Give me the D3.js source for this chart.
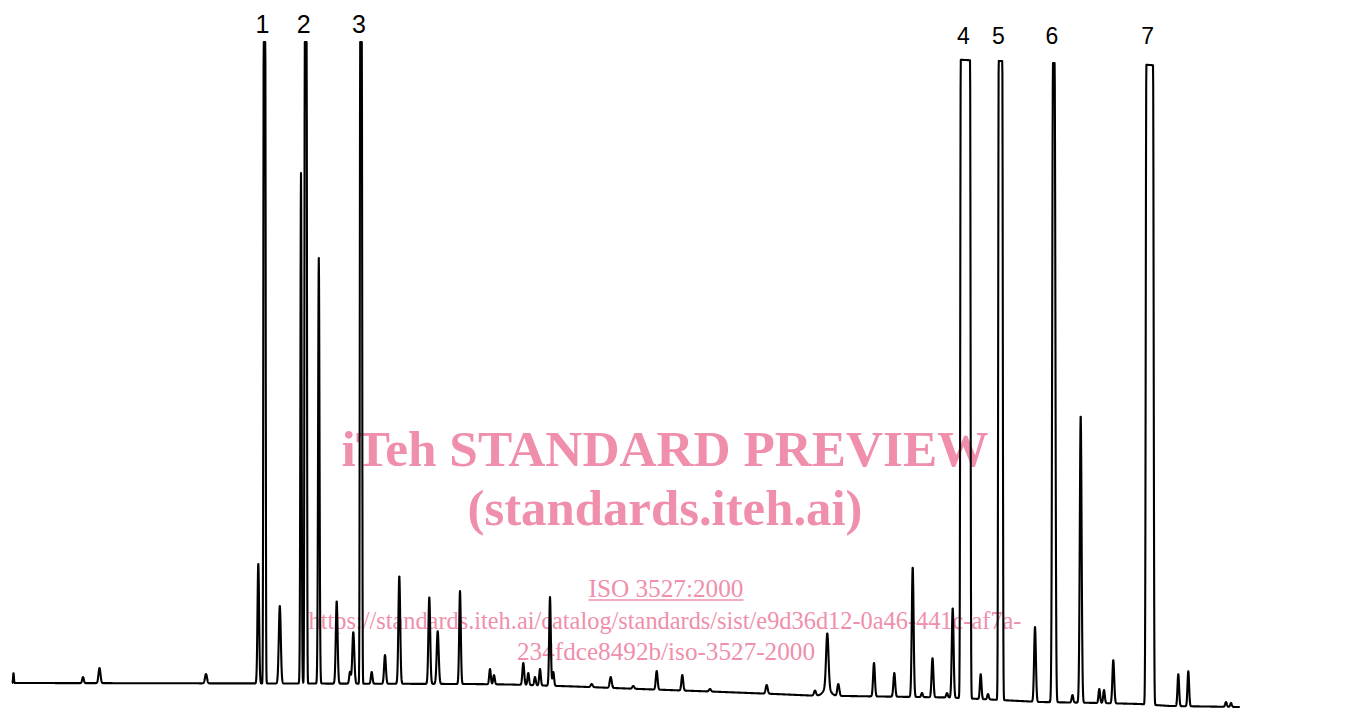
<!DOCTYPE html>
<html>
<head>
<meta charset="utf-8">
<script src="https://cdn.jsdelivr.net/npm/d3@7"></script>
<style>
    body { margin: 0; background: #fff; }
    svg { display: block; }
</style>
</head>
<body>
<script>
"use strict";

// peaks: retention (arbitrary units), apex response, peak width, flat top (saturated)
const peakRT = [13.5, 83, 99.5, 206, 258.3, 264.5, 279.8, 301, 305.7, 318.8,
                336.7, 350, 353.3, 361, 371.7, 385, 399.3, 429.3, 437.7, 460,
                490, 494, 523.3, 528.3, 535, 540, 550, 553.3, 591.7, 610.7,
                633.3, 656.7, 682.3, 710, 766.7, 815, 827, 827.3, 838.3, 874,
                894.3, 912.7, 922, 932.5, 947, 952.7, 965.4, 980.7, 988, 1000.5,
                1035, 1053.8, 1072.5, 1080.7, 1099.3, 1104, 1113.3, 1149.7, 1178.3, 1188.3,
                1226, 1231];
const peakApex = [10, 6, 15, 9, 120, 641, 77, 510, 641, 425,
                  82, 11, 51, 641, 11, 28, 107, 86, 52, 92,
                  14, 8, 20, 10, 6, 14, 86, 11, -1, 6,
                  -3, 12, 8, -6, -2, -7.5, -5, 42, -1, 20,
                  10, 116, -10, 25, -10, 75, 623, 9, -11, 622,
                  56, 620, -12, 268, -6, -7, 23, 618, 9, 12,
                  -19, -20];
const peakSigma = [0.4, 0.8, 1.0, 1.0, 0.8, 0.4, 1.0, 0.6, 0.4, 0.7,
                   0.9, 0.8, 1.0, 0.4, 0.8, 0.9, 0.9, 0.9, 1.0, 0.8,
                   0.8, 0.8, 0.9, 0.8, 0.8, 0.8, 0.8, 0.8, 1.0, 1.0,
                   1.0, 0.9, 0.9, 1.0, 1.0, 1.0, 3.5, 1.2, 1.0, 0.9,
                   0.9, 0.9, 0.8, 0.9, 0.8, 0.9, 0.5, 0.8, 0.8, 0.5,
                   0.9, 0.8, 0.8, 0.9, 0.8, 0.8, 0.9, 0.6, 0.8, 0.8,
                   0.8, 0.8];
const peakFlat = [0, 0, 0, 0, 0, 1.6, 0, 0, 1.8, 0,
                  0, 0, 0, 1.6, 0, 0, 0, 0, 0, 0,
                  0, 0, 0, 0, 0, 0, 0, 0, 0, 0,
                  0, 0, 0, 0, 0, 0, 0, 0, 0, 0,
                  0, 0, 0, 0, 0, 0, 9.3, 0, 0, 3.6,
                  0, 1.6, 0, 0, 0, 0, 0, 6.7, 0, 0,
                  0, 0];

// baseline drift
const baselineRT = [12, 300, 470, 510, 575, 640, 710, 775, 810, 880, 950, 1000, 1040, 1100, 1140, 1170, 1240];
const baselineLevel = [0, -0.5, -1, -1.5, -3.5, -6, -8.5, -11, -12.5, -13.5, -14.5, -17, -19, -20, -21, -23, -24];

// numbered peaks
const labelNames = ["1", "2", "3", "4", "5", "6", "7"];
const labelRT = [264.5, 305.7, 361, 965.4, 1000.5, 1053.8, 1149.7];

// watermark lines
const stampLines = [
    "iTeh STANDARD PREVIEW",
    "(standards.iteh.ai)",
    "ISO 3527:2000",
    "https://standards.iteh.ai/catalog/standards/sist/e9d36d12-0a46-441c-af7a-",
    "234fdce8492b/iso-3527-2000"
];



// setting
const width = 1348, height = 708;
const setting = {
    traceColor: "#000",
    traceWidth: 2.1,
    stampColor: "#ef8fab",
    step: 0.2
};



// svg
let svg = d3.select("body").append("svg")
    .attr("width", width)
    .attr("height", height);

svg.append("rect")
    .attr("width", width)
    .attr("height", height)
    .attr("fill", "#fff");



// scales
let scaleX = d3.scaleLinear().domain([0, 1348]).range([0, 1348]);
let scaleY = d3.scaleLinear().domain([0, 641]).range([683, 42]);
let baseline = d3.scaleLinear().domain(baselineRT).range(baselineLevel).clamp(true);



// peak table
let peaks = peakRT.map((rt, i) => ({
    rt: rt,
    h: peakApex[i] - baseline(rt),
    sigma: peakSigma[i],
    flat: peakFlat[i]
}));

function signal(t) {
    let s = baseline(t);
    peaks.forEach(p => {
        let d = Math.max(0, Math.abs(t - p.rt) - p.flat / 2);
        if (d < p.sigma * 8) {
            s += p.h * Math.exp(-d * d / (2 * p.sigma * p.sigma));
        }
    });
    return s;
}

let trace = d3.range(baselineRT[0], baselineRT[baselineRT.length - 1], setting.step)
    .map(t => [t, signal(t)]);



// watermark (under the trace)
let stamp = svg.append("g")
    .attr("class", "stamp")
    .attr("fill", setting.stampColor)
    .attr("font-family", "'Liberation Serif', 'Times New Roman', serif")
    .attr("text-anchor", "middle");

const stampY = [466, 525, 597, 629, 660],
      stampX = [665, 665, 666, 665, 666],
      stampLen = [647, 395, 155, 713, 298],
      stampSize = [50, 50, 25, 25, 25],
      stampBold = [true, true, false, false, false];

stamp.selectAll("text")
    .data(stampLines)
    .enter()
    .append("text")
    .attr("x", (d, i) => stampX[i])
    .attr("y", (d, i) => stampY[i])
    .attr("font-size", (d, i) => stampSize[i])
    .attr("font-weight", (d, i) => stampBold[i] ? "bold" : "normal")
    .attr("textLength", (d, i) => stampLen[i])
    .attr("lengthAdjust", "spacingAndGlyphs")
    .text(d => d);

// underline of the standard number
stamp.append("line")
    .attr("x1", stampX[2] - stampLen[2] / 2)
    .attr("x2", stampX[2] + stampLen[2] / 2)
    .attr("y1", stampY[2] + 3)
    .attr("y2", stampY[2] + 3)
    .attr("stroke", setting.stampColor)
    .attr("stroke-width", 1.3);



// chromatogram trace
let line = d3.line()
    .x(d => scaleX(d[0]))
    .y(d => scaleY(d[1]));

svg.append("path")
    .datum(trace)
    .attr("class", "trace")
    .attr("fill", "none")
    .attr("stroke", setting.traceColor)
    .attr("stroke-width", setting.traceWidth)
    .attr("stroke-linejoin", "round")
    .attr("d", line);



// peak numbers
svg.append("g")
    .attr("class", "labels")
    .attr("font-family", "'Liberation Sans', Arial, sans-serif")
    .attr("text-anchor", "middle")
    .selectAll("text")
    .data(labelNames)
    .enter()
    .append("text")
    .attr("x", (d, i) => scaleX(labelRT[i]) - 2)
    .attr("y", (d, i) => labelRT[i] < 600 ? 33 : 44)
    .attr("font-size", (d, i) => labelRT[i] < 600 ? 25 : 23)
    .attr("fill", "#000")
    .text(d => d);
</script>
</body>
</html>
